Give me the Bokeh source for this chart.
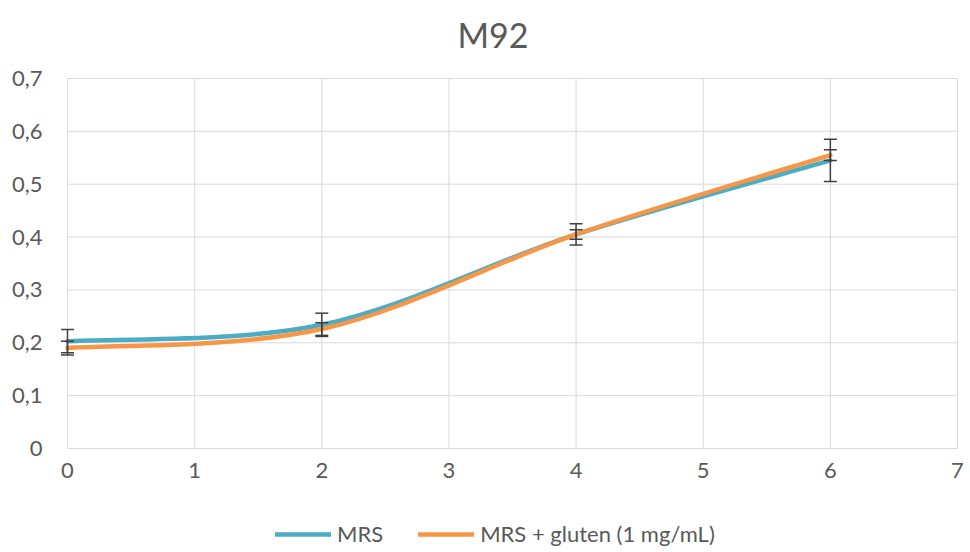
from bokeh.plotting import figure
from bokeh.models import (ColumnDataSource, Range1d, FixedTicker, Whisker, TeeHead,
                          Legend, LegendItem, Label)
from bokeh.core.properties import value
from bokeh.embed import file_html
from bokeh.resources import INLINE

# ---- data ----
x_hours = [0, 2, 4, 6]
mrs = [0.203, 0.234, 0.405, 0.545]
mrs_err = [0.022, 0.022, 0.020, 0.040]
gluten = [0.190, 0.226, 0.405, 0.555]
gluten_err = [0.013, 0.012, 0.009, 0.010]
series_names = ["MRS", "MRS + gluten (1 mg/mL)"]
series_colors = ["#4BACC6", "#F79646"]
x_ticks = [0, 1, 2, 3, 4, 5, 6, 7]
x_tick_labels = ["0", "1", "2", "3", "4", "5", "6", "7"]
y_ticks = [0, 0.1, 0.2, 0.3, 0.4, 0.5, 0.6, 0.7]
y_tick_labels = ["0", "0,1", "0,2", "0,3", "0,4", "0,5", "0,6", "0,7"]
title = "M92"

FONT = "Lato"
GREY = "#595959"
GRID = "#D9D9D9"

# ---- layout constants (pixels) ----
AREA_W, AREA_H = 890, 370        # size of the 0..7 x 0..0.7 area
LEFT_PAD, RIGHT_PAD, TOP_PAD, BOTTOM_PAD = 8, 9, 78, 102
px_x = AREA_W / (x_ticks[-1] - x_ticks[0])
px_y = AREA_H / (y_ticks[-1] - y_ticks[0])
x_start = x_ticks[0] - LEFT_PAD / px_x
x_end = x_ticks[-1] + RIGHT_PAD / px_x
y_end = y_ticks[-1] + TOP_PAD / px_y
y_start = y_ticks[0] - BOTTOM_PAD / px_y


def smooth_segments(xs, ys):
    """Bezier control points (Catmull-Rom style, as in a smoothed line chart)."""
    n = len(xs)
    def tan(v, i):
        a = v[max(i - 1, 0)]
        b = v[min(i + 1, n - 1)]
        return (b - a) / 2.0
    d = dict(x0=[], y0=[], x1=[], y1=[], cx0=[], cy0=[], cx1=[], cy1=[])
    for i in range(n - 1):
        d["x0"].append(xs[i]); d["y0"].append(ys[i])
        d["x1"].append(xs[i + 1]); d["y1"].append(ys[i + 1])
        d["cx0"].append(xs[i] + tan(xs, i) / 3.0)
        d["cy0"].append(ys[i] + tan(ys, i) / 3.0)
        d["cx1"].append(xs[i + 1] - tan(xs, i + 1) / 3.0)
        d["cy1"].append(ys[i + 1] - tan(ys, i + 1) / 3.0)
    return d


p = figure(frame_width=AREA_W + LEFT_PAD + RIGHT_PAD,
           frame_height=AREA_H + TOP_PAD + BOTTOM_PAD,
           output_backend="svg", toolbar_location=None, x_axis_location=None,
           x_range=Range1d(x_start, x_end), y_range=Range1d(y_start, y_end),
           min_border_left=59, min_border_right=0, min_border_top=0,
           min_border_bottom=0)
p.outline_line_color = None
p.background_fill_color = "white"
p.border_fill_color = "white"
p.xgrid.visible = False
p.ygrid.visible = False

p.yaxis.axis_line_color = None
p.yaxis.major_tick_line_color = None
p.yaxis.minor_tick_line_color = None
p.yaxis.major_label_text_font = FONT
p.yaxis.major_label_text_font_size = "22px"
p.yaxis.major_label_text_color = GREY
p.yaxis.ticker = FixedTicker(ticks=y_ticks)
p.yaxis.major_label_overrides = {t: l for t, l in zip(y_ticks, y_tick_labels)}
p.yaxis.major_label_standoff = 11

# grid lines limited to the 0..7 x 0..0.7 area
p.segment(x0=x_ticks, y0=[y_ticks[0]] * len(x_ticks),
          x1=x_ticks, y1=[y_ticks[-1]] * len(x_ticks),
          line_color=GRID, line_width=1)
p.segment(x0=[x_ticks[0]] * len(y_ticks), y0=y_ticks,
          x1=[x_ticks[-1]] * len(y_ticks), y1=y_ticks,
          line_color=GRID, line_width=1)

# x tick labels below y = 0
p.text(x=x_ticks, y=[y_ticks[0] - 22 / px_y] * len(x_ticks), text=x_tick_labels,
       text_font=value(FONT), text_font_size="22px", text_color=GREY,
       text_align="center", text_baseline="middle")

# title
p.add_layout(Label(x=x_ticks[0] + 425.5 / px_x, y=y_ticks[-1] + 44 / px_y,
                   text=title, text_font=FONT, text_font_size="34px",
                   text_color=GREY, text_align="center",
                   text_baseline="alphabetic"))

# error bars
for vals, errs in ((mrs, mrs_err), (gluten, gluten_err)):
    src = ColumnDataSource(dict(
        x=x_hours,
        upper=[v + e for v, e in zip(vals, errs)],
        lower=[v - e for v, e in zip(vals, errs)]))
    w = Whisker(source=src, base="x", upper="upper", lower="lower",
                line_color="#404040", line_width=1.5,
                upper_head=TeeHead(size=13, line_color="#404040", line_width=1.5),
                lower_head=TeeHead(size=13, line_color="#404040", line_width=1.5))
    w.level = "glyph"
    p.add_layout(w)

items = []
for vals, name, col in zip((mrs, gluten), series_names, series_colors):
    src = ColumnDataSource(smooth_segments(x_hours, vals))
    r = p.bezier(x0="x0", y0="y0", x1="x1", y1="y1", cx0="cx0", cy0="cy0",
                 cx1="cx1", cy1="cy1", source=src, line_color=col,
                 line_width=4.5, line_cap="round")
    items.append(LegendItem(label=name, renderers=[r]))

legend = Legend(items=items, orientation="horizontal", location=(216, 3),
                glyph_width=56, glyph_height=24, label_standoff=6, spacing=35,
                padding=0, margin=0, border_line_color=None,
                background_fill_alpha=0, label_text_font=FONT,
                label_text_font_size="22px", label_text_color=GREY)
p.add_layout(legend, "center")

open("out.html", "w").write(file_html(p, INLINE))
